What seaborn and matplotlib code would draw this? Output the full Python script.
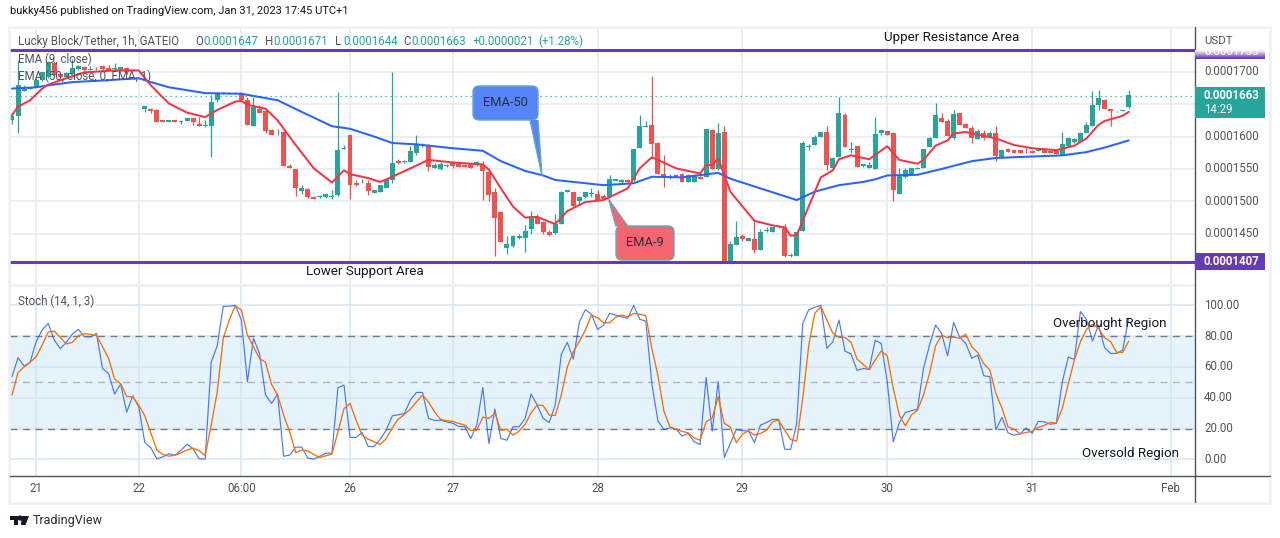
import numpy as np
import matplotlib
matplotlib.use('Agg')
import matplotlib.pyplot as plt
from matplotlib.patches import Rectangle, Polygon, FancyBboxPatch
from matplotlib.transforms import Affine2D
import seaborn as sns

nan = np.nan

# prices are in units of 0.0000001 USDT
opens = [1625,1631,1671,1674,1677,1687,1692,1714,1697,1692,
	1697,1704,1708,1703,1705,1709,1705,1704,1702,1705,
	1703,nan,1643,1643,1641,1626,1622,1626,1622,1624,
	1629,1620,1617,1617,1656,1666,1666,1666,1667,1656,
	1617,1643,1639,1610,1610,1607,1555,1550,1516,1519,
	1507,1506,1506,1507,1510,1581,1602,1528,1531,1529,
	1513,1515,1520,1533,1563,1561,1561,1574,1585,1587,
	1552,1550,1555,1560,1558,1556,1557,1556,1556,1546,
	1515,1484,1428,1431,1444,1444,1457,1476,1468,1452,
	1451,1465,1515,1514,1500,1506,1512,1511,1508,1507,
	1532,1530,1533,1533,1583,1615,1618,1590,1542,1538,
	1541,1542,1530,1530,1538,1538,1610,1550,1607,1407,
	1432,1447,1439,1442,1425,1455,1452,1462,1460,1415,
	1416,1455,1584,1587,1599,1607,1552,1569,1633,1580,
	1585,1555,1552,1550,1605,1608,1605,1511,1538,1543,
	1550,1552,1584,1598,1628,1624,1598,1636,1620,1613,
	1596,1606,1600,1606,1568,1581,1579,1579,1578,1578,
	1578,1580,1578,1577,1572,1586,1592,1592,1606,1617,
	1649,1657,1642,1639,1640,1646]
closes = [1632,1679,1674,1675,1687,1699,1715,1695,1692,1698,
	1705,1709,1702,1703.5,1706,1704,1702,1705,1707,1700,
	1702,nan,1647,1640,1623,1623,1626,1622,1624,1628,
	1622,1617,1618,1653,1666,1667,1667,1667,1656,1618,
	1646,1636,1609,1602,1610.5,1555,1551,1520,1520,1506,
	1504,1509,1511,1509,1579,1582,1525,1525,1532,1516,
	1517,1525,1535,1559,1559,1562,1578,1587,1586,1553,
	1556,1558,1556,1554,1553,1553,1552,1560,1547,1510,
	1475,1437,1435,1447,1447,1454,1478,1465,1452,1448,
	1465,1514,1517,1493,1507,1514,1513,1502,1503,1534,
	1534,1533,1530,1581,1616,1617,1589,1542,1538,1539,
	1538,1530,1541,1541,1534,1612,1550,1606,1407,1435,
	1445,1442,1443,1425,1453,1456,1460,1460,1416,1418,
	1452,1590,1585,1600,1607,1556,1567,1636,1584,1581,
	1553,1557,1556,1604,1610,1602,1517,1541,1548,1551,
	1552,1581,1598,1633,1622,1601,1635,1618,1613,1597,
	1609,1597,1606,1570,1579,1576,1575,1575,1577,1575,
	1581,1575,1574,1573,1589,1598,1596,1606,1618,1649,
	1659,1642,1639,1640,1641,1664]
highs = [1636,1718,1680,1676,1690,1700,1716,1716,1700,1700,
	1720,1710,1709,1709,1708,1710,1711,1714,1708,1707,
	1704,nan,1647,1644,1642,1626,1626,1626,1626,1629,
	1630,1630,1625,1664,1668,1668,1668,1668,1668,1661,
	1661,1648,1644,1611,1611,1608,1558,1550,1525,1520,
	1508,1510,1512,1517,1668,1587,1603,1533,1535,1533,
	1517,1525,1535,1699,1565,1564,1585,1602,1590,1588,
	1559,1561,1558,1561,1561,1558,1558,1562,1563,1551,
	1520,1485,1447,1448,1449,1463,1485,1481,1470,1456,
	1480,1516,1518,1515,1509,1515,1520,1517,1512,1540,
	1535,1534,1534,1581,1633,1624,1694,1591,1572,1542,
	1542,1544,1542,1542,1539,1612,1611,1621,1617,1439,
	1470,1449,1443,1469,1457,1461,1461,1462,1465,1420,
	1453,1593,1589,1602,1607,1616,1568,1661,1636,1592,
	1586,1558,1561,1630,1610,1609,1607,1551,1551,1552,
	1553,1581,1599,1651,1636,1627,1641,1637,1621,1616,
	1611,1610,1608,1616,1580,1582,1580,1580,1582,1580,
	1582,1581,1579,1578,1607,1599,1597,1607,1622,1671,
	1672,1658,1642,1640,1641,1672]
lows = [1619,1605,1671,1674,1676,1686,1690,1692,1690,1690,
	1696,1703,1701,1702,1703,1703,1701,1703,1701,1696,
	1701,nan,1638,1637,1623,1622,1622,1622,1620,1624,
	1618,1617,1615,1569,1654,1665,1666,1665,1655,1618,
	1617,1636,1605,1602,1602,1555,1551,1509,1512,1505,
	1504,1505,1505,1504,1508,1581,1503,1524,1528,1510,
	1513,1514,1520,1528,1558,1559,1560,1571,1584,1547,
	1552,1549,1553,1552,1553,1553,1552,1555,1502,1501,
	1416,1437,1419,1430,1442,1422,1450,1465,1450,1447,
	1449,1465,1515,1493,1494,1505,1507,1502,1503,1506,
	1531,1529,1530,1532,1582,1614,1566,1542,1522,1535,
	1537,1530,1530,1530,1534,1538,1550,1549,1405,1405,
	1432,1439,1439,1420,1425,1452,1452,1459,1414,1414,
	1416,1454,1579,1587,1599,1548,1551,1568,1584,1574,
	1553,1553,1552,1550,1603,1602,1500,1511,1536,1543,
	1550,1552,1584,1598,1622,1601,1596,1618,1613,1590,
	1596,1595,1599,1563,1567,1576,1575,1575,1574,1574,
	1577,1575,1574,1573,1571,1585,1590,1591,1605,1616,
	1641,1642,1617,1638,1640,1644]

ema50_bars = [0,4,6,10,16,21,23,26,32,38,44,48,53,56,60,63,67,73,78,81,85,88,90,94,98,
	103,106,111,117,119,124,127,130,133,137,141,143,145,150,154,159,163,174,178,181,185]
ema50 = [1674,1676,1679,1684,1687,1690,1684,1676,1667,1666,1656,1638,1616,1612,1600,1590,1588,1582,1578,1562,1547,1540,1533,1529,1525,
	1528,1538,1537,1544,1535,1520,1511,1502,1515,1525,1530,1534,1540,1541,1550,1562,1567,1571,1576,1583,1594]
ema9_bars = [0,1,3,5,6,9,12,17,21,23,26,29,32,34,37,38,39,42,44,47,50,53,55,56,59,61,63,69,73,78,79,81,83,85,87,90,92,95,98,
	102,104,106,107,110,114,115,116,117,119,123,126,128,129,130,134,136,137,139,142,145,147,150,151,153,155,156,158,163,166,169,173,176,178,180,181,184,185]
ema9 = [1633,1646,1656,1674,1680,1690,1699,1702,1702,1679,1651,1637,1630,1641,1654,1655,1649,1643,1625,1587,1551,1529,1548,1542,1536,1530,1538,1564,1560,1557,1549,1520,1492,1475,1476,1465,1485,1499,1502,
	1520,1551,1568,1564,1551,1543,1556,1556,1566,1515,1470,1463,1460,1447,1448,1537,1548,1565,1571,1565,1585,1564,1558,1564,1586,1594,1605,1607,1597,1587,1582,1579,1586,1597,1618,1624,1632,1638]

stoch_k = [53.7,66,60.6,63,76.4,84,88.3,77.5,71.9,76,
	81.4,84.4,79.6,79.6,81.8,59,55.8,42.4,48.9,30.7,
	41.3,34.2,11,7.6,0.4,1.7,3.7,2.6,6,9.9,
	7,0.4,0.4,63,73.8,99.4,99.4,100,90.5,50.4,
	78.6,68.8,41.8,36.4,42.4,2.1,2.8,8,8,0.9,
	0.2,2.1,4.1,4.1,46.5,48.3,14.3,14.3,17.5,8.4,
	8.4,13.2,19,28.3,29,29.8,38.5,43.5,43.5,26.6,
	25.3,25.5,24.4,23.6,21.4,21.4,13.6,22.3,46.7,10.4,
	32.7,13.6,12.5,21.2,21.2,26.6,42.4,35.3,26.6,24,
	35.3,68.2,76,65.1,89.4,97.2,94.2,84.4,87.2,94.8,
	93.7,92.6,91.6,100,90.9,89.8,49.3,25.1,19.5,20.5,
	19.9,15.1,16.9,11.5,9.7,53.2,18.4,50.6,1.3,10.4,
	19.5,18.6,18.6,11,22.3,24,26,26,6.7,6.5,
	23.4,88.3,97.2,98.7,100,72.1,76.4,90.5,70.3,68.4,
	57.8,59,58.4,77.3,75.3,50.4,11.5,23.8,30.5,31.6,
	32.7,59,74.2,87.2,81.8,67.3,89,79.2,75.3,65.6,
	67.7,54.3,53.7,19.3,27.3,17.3,15.8,16.6,20.5,16.9,
	24.7,24.4,22.9,23.4,50.4,66.4,64.9,96,90.9,76.8,
	87.2,72.5,68.8,68.8,71,91.6]
stoch_d = [41.8,56.5,60,63,66.7,74.2,82.7,83.3,79.2,74.9,
	76,80.3,81.6,81.2,80.3,73.2,65.6,52.2,49.1,40.9,
	40.5,35.3,28.3,17.3,6.2,3.2,2.1,2.8,4.3,6.2,
	7.3,5.8,2.4,22.3,43.9,78.6,90.5,99.8,97,80.7,
	73.2,65.6,63,48.7,41.8,28.8,18,4.5,6,5.6,
	3.2,1.3,2.4,3.4,18,33,36.4,25.5,15.8,13.2,
	11.5,9.7,13.6,20.5,26.2,29.2,32.7,37.4,41.8,37.4,
	30.9,26,25.1,24.7,23.4,22.3,18.8,19,27.5,26.6,
	30,18.8,19.7,15.8,18.4,22.7,30.3,35.3,35,28.8,
	28.6,41.8,60,69.9,76.8,84,93.7,92,88.7,88.7,
	92.2,93.7,92.6,94.8,94.2,93.3,72,54.7,31.4,21.2,
	19.7,18.2,17.3,14,12.5,24.4,27,40.7,23.4,21,
	10.8,16.4,18.6,15.8,16.9,19,24.4,25.5,19,13,
	11.9,39.6,74.2,94.8,99.1,90.5,81.8,79.2,79.2,76,
	65.1,61.7,58.2,64.5,70.3,67.3,46.1,28.8,21.8,28.8,
	32,41.8,55.8,73.6,80.7,79,79.4,78.6,81.2,73.2,
	69.3,62.1,58,42.8,33.5,21.2,19.7,16.6,17.5,18.4,
	20.8,22.1,24,23.6,33.1,49.3,64.5,76.4,84.4,87.7,
	85,79,76.4,69.5,69.5,76.8]

date_bars = [4,21,38,56,73,97,121,145,169,192]
date_labels = ['21','22','06:00','26','27','28','29','30','31','Feb']
price_ticks = [1450,1500,1550,1600,1650,1700]
price_labels = ['0.0001450','0.0001500','0.0001550','0.0001600',None,'0.0001700']
stoch_ticks = [0,20,40,60,80,100]
stoch_labels = ['0.00','20.00','40.00','60.00','80.00','100.00']
last_price = 1663
upper_level = 1733
lower_level = 1407

GREEN = '#26a69a'
RED = '#ef5350'
PURPLE = '#673ab7'
GRID = '#e4ebf3'
GREY = '#50535e'
DARK = '#131722'
FRAME = '#eef0f6'

sns.set_theme(style='white')
plt.rcParams['font.family'] = ['Roboto', 'DejaVu Sans']

W, H = 1280, 538
fig = plt.figure(figsize=(W/100, H/100), dpi=100, facecolor='white')
px = Affine2D().scale(1, -1).translate(0, H)

def pane(x0, y0, x1, y1):
	return fig.add_axes([x0/W, 1-y1/H, (x1-x0)/W, (y1-y0)/H])

a1 = pane(10, 27, 1194.5, 285)
a2 = pane(10, 285, 1194.5, 475.5)
xlim = (-0.33, 195.9)

bars = np.arange(len(opens))
o = np.array(opens, dtype=float)
c = np.array(closes, dtype=float)
hi = np.array(highs, dtype=float)
lo = np.array(lows, dtype=float)
cols = [GREEN if cc >= oo else RED for oo, cc in zip(o, c)]

for a in (a1, a2):
	a.set_xlim(xlim)
	a.set_xticks(date_bars)
	a.set_xticklabels([])
	a.tick_params(length=0, labelleft=False, labelbottom=False)
	a.grid(True, color=GRID, lw=1.1)
	a.set_axisbelow(True)
	for s in a.spines.values():
		s.set_visible(False)

# main pane
a1.set_ylim(1371, 1769)
a1.set_yticks(price_ticks)
a1.vlines(bars, lo, hi, colors=cols, lw=0.9, zorder=2)
a1.bar(bars, np.abs(c-o), bottom=np.minimum(o, c), width=0.82, color=cols, lw=0, zorder=3)
a1.axhline(last_price, color=GREEN, lw=0.9, ls=(0, (1, 3)), zorder=2)
sns.lineplot(x=ema50_bars, y=ema50, ax=a1, color='#2962ff', lw=1.45, estimator=None, sort=False, zorder=4)
sns.lineplot(x=ema9_bars, y=ema9, ax=a1, color='#f23645', lw=1.45, estimator=None, sort=False, zorder=5)
a1.axhline(upper_level, color=PURPLE, lw=2.2, zorder=6)
a1.axhline(lower_level, color=PURPLE, lw=2.2, zorder=6)
a1.set_xlabel('')
a1.set_ylabel('')

# stochastic pane
a2.set_ylim(-10.4, 113.2)
a2.set_yticks(stoch_ticks)
a2.axhspan(20, 80, color='#e3f2fd', alpha=0.9, lw=0, zorder=0.5)
a2.grid(True, color='#d7e5f1', lw=1.1)
a2.axhline(80, color='#787b86', lw=1, ls=(0, (5, 4)), zorder=2)
a2.axhline(50, color='#b2b5be', lw=1, ls=(0, (5, 4)), zorder=2)
a2.axhline(20, color='#787b86', lw=1, ls=(0, (5, 4)), zorder=2)
sns.lineplot(x=bars, y=stoch_k, ax=a2, color='#2962ff', lw=0.85, alpha=0.85, estimator=None, zorder=3)
sns.lineplot(x=bars, y=stoch_d, ax=a2, color='#ff6d00', lw=0.95, estimator=None, zorder=4)
a2.set_xlabel('')
a2.set_ylabel('')

def txt(x, y, s, color=GREY, size=8.3, ha='left', va='center', **kw):
	return fig.text(x, y, s, color=color, fontsize=size, ha=ha, va=va, transform=px, zorder=20, **kw)

def line(xs, ys, color, lw=1.0):
	fig.add_artist(plt.Line2D(xs, ys, color=color, lw=lw, transform=px, zorder=9))

def box(x0, y0, x1, y1, color, z=12):
	fig.add_artist(Rectangle((x0, y0), x1-x0, y1-y0, facecolor=color, edgecolor='none', transform=px, zorder=z))

# frame and axis lines
fig.add_artist(Rectangle((9, 26.5), 1261, 476, facecolor='none', edgecolor=FRAME, lw=1.8, transform=px, zorder=8))
line([10, 1194.5], [285, 285], FRAME, 1.8)
line([10, 1270], [475.5, 475.5], '#50535e', 1.0)
line([1194.5, 1194.5], [27, 502], '#50535e', 1.0)

# header
txt(10, 11, 'bukky456 published on TradingView.com, Jan 31, 2023 17:45 UTC+1', color=DARK, size=8.0)
txt(18, 41.5, 'Lucky Block/Tether, 1h, GATEIO')
for x, lab, val in [(195, 'O', '0.0001647'), (265, 'H', '0.0001671'), (335, 'L', '0.0001644'), (403, 'C', '0.0001663')]:
	txt(x, 41.5, lab)
	txt(x+8, 41.5, val, color=GREEN)
txt(473, 41.5, '+0.0000021', color=GREEN)
txt(538, 41.5, '(+1.28%)', color=GREEN)
txt(18, 59, 'EMA (9, close)')
txt(18, 76, 'EMA (50, close, 0, EMA, 1)')
txt(18, 301, 'Stoch (14, 1, 3)')

# region labels
txt(952, 38, 'Upper Resistance Area', color=DARK, size=9.6, ha='center')
txt(365, 272, 'Lower Support Area', color=DARK, size=9.6, ha='center')
txt(1110, 323, 'Overbought Region', color=DARK, size=9.6, ha='center')
txt(1131, 454, 'Oversold Region', color=DARK, size=9.6, ha='center')

# callouts
def callout(x0, y0, x1, y1, pts, color, label):
	fig.add_artist(FancyBboxPatch((x0, y0), x1-x0, y1-y0, boxstyle='round,pad=0,rounding_size=6',
		facecolor=color, edgecolor='#62a8c8', lw=1, transform=px, zorder=13))
	fig.add_artist(Polygon(pts, closed=False, facecolor=color, edgecolor='#62a8c8', lw=1, transform=px, zorder=14))
	txt((x0+x1)/2, (y0+y1)/2, label, color='#2a2e39', size=9.3, ha='center')

callout(473, 86, 538, 120, [(530, 120), (542, 176), (538, 120)], '#5585f6', 'EMA-50')
callout(616, 226, 674, 260, [(616, 226.5), (608.5, 199), (628, 226.5)], '#f6656f', 'EMA-9')

# right axis
txt(1204, 41, 'USDT', size=8.2)
for v, lab in zip(price_ticks, price_labels):
	if lab:
		y = 71.7+(1700-v)*0.648
		txt(1204, y, lab)
for v, lab in zip(stoch_ticks, stoch_labels):
	txt(1204, 459.3-v*1.54, lab)

# price tags
tag_steps = ['#f6f1fb', '#e6dcf3', '#d5c6ea', '#c3aee1', '#af95d7', '#997ace', '#8560c5', '#7449bd', '#673ab7']
for k, col in enumerate(tag_steps):
	box(1194.5, 49.5+k, 1265, 50.5+k, col)
t = txt(1204, 51.5, '0.0001733', color='white')
t.set_clip_path(Rectangle((1194.5, 49.5), 71, 9, transform=px))
box(1194.5, 87, 1265, 118, GREEN)
txt(1204, 95.5, '0.0001663', color='white', fontweight='bold')
txt(1204, 109.5, '14:29', color='white')
box(1194.5, 253, 1265, 270, PURPLE)
txt(1204, 261.5, '0.0001407', color='white', fontweight='bold')

# date labels
for b, lab in zip(date_bars, date_labels):
	txt(11.9+6.036*b, 489, lab, size=8.3, ha='center')

# logo
for xy in [[(10, 516), (18, 516), (18, 525), (14, 525), (14, 520), (10, 520)],
	[(21.5, 516), (29, 516), (25.5, 525), (21, 525)]]:
	fig.add_artist(Polygon(xy, closed=True, facecolor=DARK, edgecolor='none', transform=px, zorder=20))
fig.add_artist(plt.Circle((20, 518), 1.9, color=DARK, transform=px, zorder=20))
txt(33, 520.5, 'TradingView', color='#2a2e39', size=9.0)

fig.savefig('out.png', dpi=100)
